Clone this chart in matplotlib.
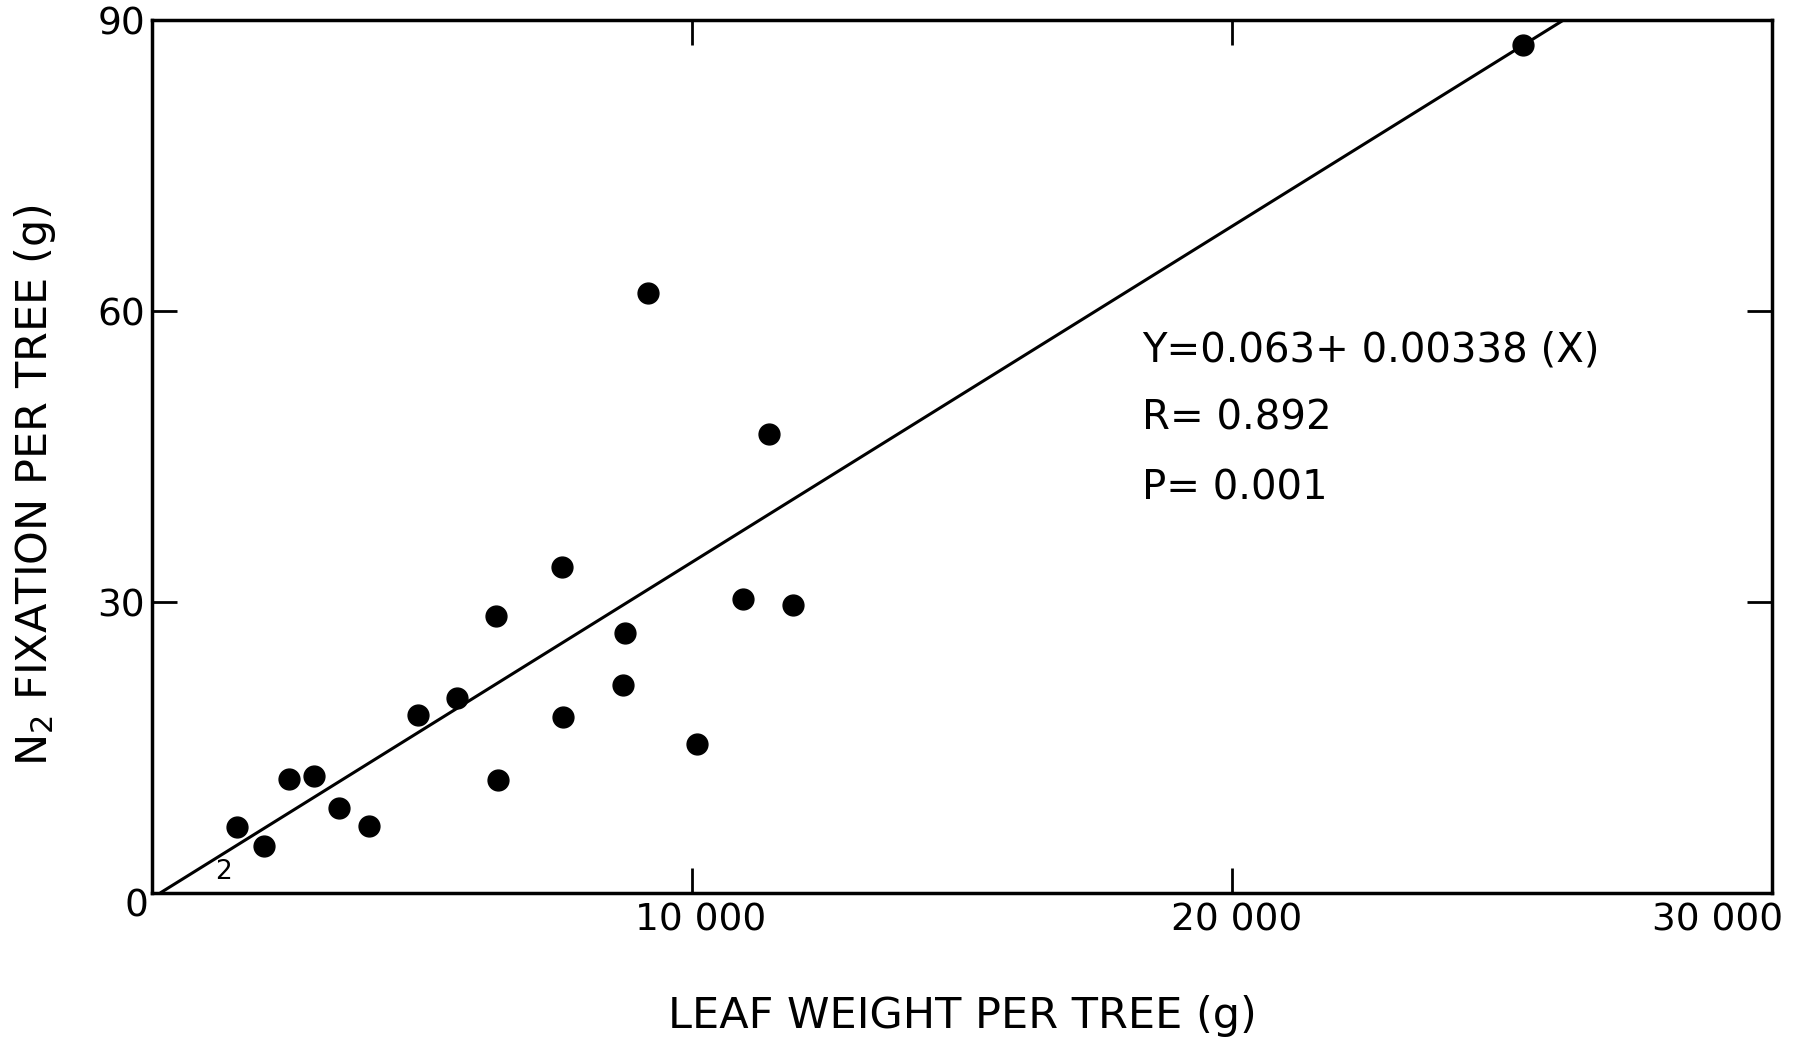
import matplotlib
matplotlib.use("Agg")
import matplotlib.pyplot as plt
import matplotlib.transforms as mtransforms

# leaf weight per tree (g) and N2 fixation per tree (g)
leaf_weight = [1580, 2080, 2540, 3000, 3460, 4010, 4930, 5640, 6370, 6400,
               7600, 7610, 8760, 8730, 9190, 10090, 10940, 11430, 11870, 25380]
n2_fixation = [6.8, 4.8, 11.8, 12.1, 8.8, 6.9, 18.4, 20.1, 28.6, 11.6,
               33.6, 18.1, 26.8, 21.4, 61.9, 15.4, 30.3, 47.3, 29.7, 87.4]

# regression line as drawn in the figure
line_x = [150, 26140]
line_y = [0, 90]

x_ticks = [0, 10000, 20000, 30000]
x_ticklabels = ['', '10 000', '20 000', '30 000']
y_ticks = [0, 30, 60, 90]
y_ticklabels = ['', '30', '60', '90']

stats_lines = ['Y=0.063+ 0.00338 (X)', 'R= 0.892', 'P= 0.001']
stats_y = [54.8, 47.8, 40.6]   # baselines

plt.rcParams['font.family'] = 'DejaVu Sans'

fig = plt.figure(figsize=(18.10, 10.38), dpi=100)
ax = fig.add_axes([0.084, 0.1397, 0.895, 0.841])

ax.plot(line_x, line_y, color='black', lw=2.2, solid_capstyle='butt', zorder=2)
ax.plot(leaf_weight, n2_fixation, 'o', color='black', ms=15, zorder=3)

# "2" marks two coincident trees near the origin
ax.text(1330, 2.2, '2', fontsize=19, ha='center', va='center')

for txt, yy in zip(stats_lines, stats_y):
    ax.text(18330, yy, txt, fontsize=29, ha='left', va='baseline')

ax.set_xlim(0, 30000)
ax.set_ylim(0, 90)
ax.set_xticks(x_ticks)
ax.set_xticklabels(x_ticklabels)
ax.set_yticks(y_ticks)
ax.set_yticklabels(y_ticklabels)

ax.tick_params(direction='in', length=18, width=2, labelsize=27,
               top=True, right=True)
ax.tick_params(axis='x', pad=7)
ax.tick_params(axis='y', pad=5)

# nudge x tick labels the way they sit in the original
shifts = [0, 9, 5, -54]
for lab, dx in zip(ax.get_xticklabels(), shifts):
    lab.set_transform(lab.get_transform() +
                      mtransforms.ScaledTranslation(dx / 100, 0, fig.dpi_scale_trans))

# shared zero at the corner
ax.text(-0.0025, -0.0155, '0', transform=ax.transAxes, fontsize=27,
        ha='right', va='center')

for sp in ax.spines.values():
    sp.set_linewidth(2.5)

ax.set_xlabel('LEAF WEIGHT PER TREE (g)', fontsize=31)
ax.xaxis.set_label_coords(0.5, -0.117)
ax.set_ylabel('N$_2$ FIXATION PER TREE (g)', fontsize=31)
ax.yaxis.set_label_coords(-0.058, 0.467)

fig.savefig('out.png', dpi=100, facecolor='white')
